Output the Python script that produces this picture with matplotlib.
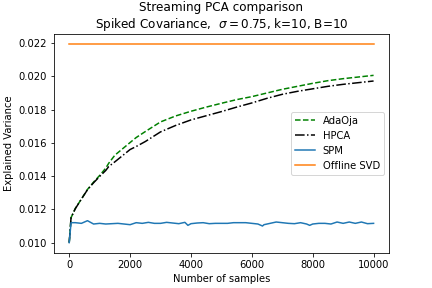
import numpy as np
import matplotlib
matplotlib.use("Agg")
import matplotlib.pyplot as plt

# sample counts and explained variance
x_curve = [0, 60, 200, 400, 600, 800, 1000, 1200, 1300, 1500, 2000, 2200, 2500,
           3000, 3500, 4000, 4500, 5000, 5500, 6000, 6500, 7000, 7500, 8000,
           8500, 9000, 9500, 10000]
adaoja = [0.0100, 0.01150, 0.01206, 0.01262, 0.01320, 0.01364, 0.01404, 0.01448,
          0.01478, 0.01526, 0.01602, 0.01632, 0.01668, 0.01726, 0.01762, 0.01790,
          0.01815, 0.01838, 0.01860, 0.01878, 0.01900, 0.01922, 0.01940, 0.01958,
          0.01974, 0.01986, 0.01996, 0.02006]
hpca = [0.0100, 0.01150, 0.01204, 0.01262, 0.01318, 0.01360, 0.01398, 0.01434,
        0.01458, 0.01486, 0.01560, 0.01578, 0.01608, 0.01666, 0.01705, 0.01738,
        0.01763, 0.01788, 0.01815, 0.01840, 0.01868, 0.01892, 0.01910, 0.01925,
        0.01940, 0.01952, 0.01962, 0.01972]

x_spm = [0, 60, 200, 400, 600, 800, 1000, 1200, 1400, 1600, 1800, 2000, 2200,
         2400, 2600, 2800, 3000, 3200, 3400, 3600, 3800, 3900, 4000, 4200, 4400,
         4600, 4800, 5000, 5200, 5400, 5600, 5800, 6000, 6200, 6350, 6400, 6600,
         6800, 7000, 7200, 7400, 7600, 7800, 7900, 8000, 8200, 8400, 8600, 8800,
         9000, 9200, 9400, 9600, 9800, 10000]
spm = [0.0100, 0.01120, 0.01120, 0.01116, 0.01132, 0.01112, 0.01116, 0.01112,
       0.01114, 0.01116, 0.01112, 0.01108, 0.01120, 0.01116, 0.01122, 0.01116,
       0.01116, 0.01122, 0.01118, 0.01114, 0.01122, 0.01104, 0.01114, 0.01118,
       0.01120, 0.01114, 0.01116, 0.01116, 0.01116, 0.01120, 0.01120, 0.01120,
       0.01116, 0.01112, 0.01100, 0.01108, 0.01116, 0.01124, 0.01120, 0.01116,
       0.01114, 0.01120, 0.01112, 0.01104, 0.01112, 0.01116, 0.01116, 0.01112,
       0.01124, 0.01116, 0.01124, 0.01116, 0.01124, 0.01114, 0.01116]

x_svd = [0, 10000]
offline_svd = [0.02195, 0.02195]

fig = plt.figure(figsize=(6, 4), dpi=72)
fig.subplots_adjust(bottom=0.123, top=0.882)
plt.plot(x_curve, adaoja, 'g--', label='AdaOja')
plt.plot(x_curve, hpca, 'k-.', label='HPCA')
plt.plot(x_spm, spm, label='SPM')
plt.plot(x_svd, offline_svd, label='Offline SVD')
plt.legend(loc='center right')
plt.title('Streaming PCA comparison\nSpiked Covariance,  $\\sigma = 0.75$, k=10, B=10')
plt.xlabel('Number of samples')
plt.ylabel('Explained Variance')
plt.savefig('out.png', dpi=72)
